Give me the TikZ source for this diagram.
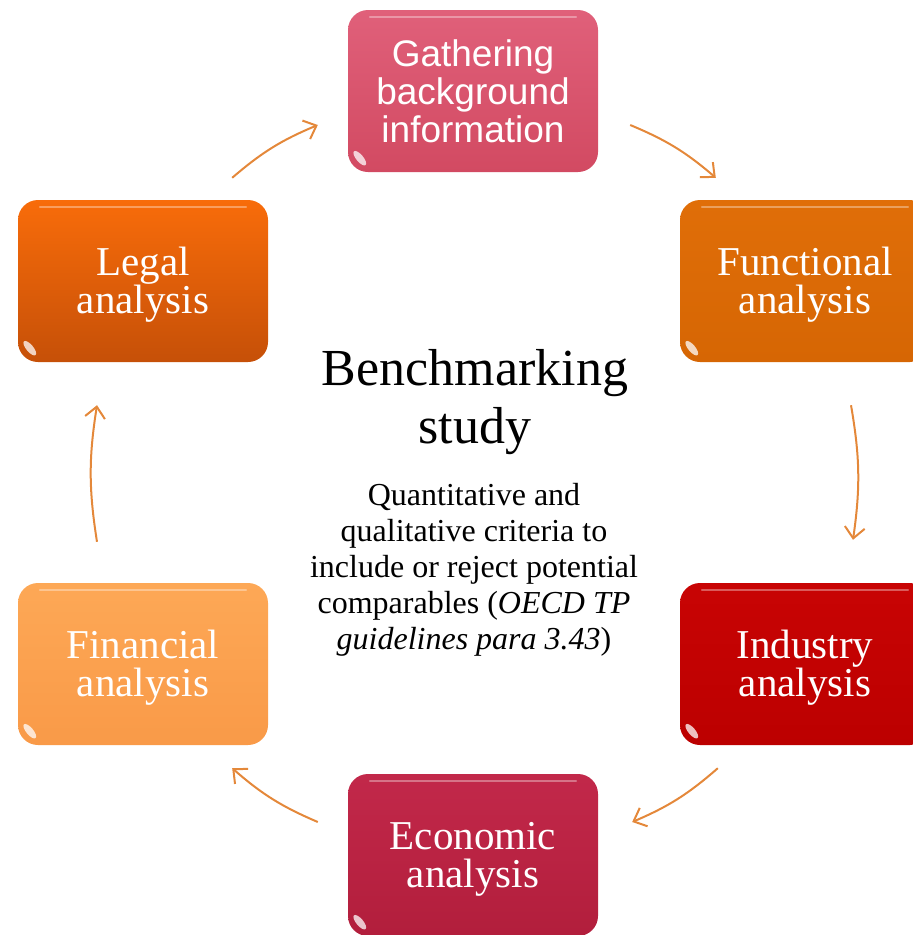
\documentclass[tikz,border=0pt]{standalone}
\usepackage{fontspec}
\setmainfont{Liberation Serif}
\newfontfamily\gathersans{Liberation Sans}
\usetikzlibrary{arrows.meta}

\definecolor{gathertop}{HTML}{E0607A}
\definecolor{gatherbot}{HTML}{D24A62}
\definecolor{legaltop}{HTML}{F86C0A}
\definecolor{legalbot}{HTML}{C65008}
\definecolor{functop}{HTML}{E06E08}
\definecolor{funcbot}{HTML}{D66604}
\definecolor{indtop}{HTML}{C80404}
\definecolor{indbot}{HTML}{BC0000}
\definecolor{fintop}{HTML}{FDA856}
\definecolor{finbot}{HTML}{F99A48}
\definecolor{ecotop}{HTML}{C2284A}
\definecolor{ecobot}{HTML}{B21E3C}
\definecolor{flowcol}{HTML}{E4883A}

\tikzset{
  box/.style={rounded corners=20pt, minimum width=250pt, minimum height=162pt,
    text=white, align=center},
  stage/.style={box, font=\fontsize{41}{38}\selectfont,
    execute at begin node={\rule{0pt}{74pt}}},
  gatherstage/.style={box, font=\gathersans\fontsize{37}{38}\selectfont},
  flow/.style={draw=flowcol, line width=2pt,
    -{Straight Barb[length=11pt,width=20pt]}},
}

\begin{document}
\begin{tikzpicture}[x=1pt,y=1pt]
  \useasboundingbox (0,0) rectangle (913,-935);
  \clip (0,0) rectangle (913,-935);

  % the six stages
  \node[gatherstage, top color=gathertop, bottom color=gatherbot] (gather) at (473,-91)
    {Gathering\\background\\information};
  \node[stage, top color=functop, bottom color=funcbot] (func) at (805,-281)
    {Functional\\analysis};
  \node[stage, top color=indtop, bottom color=indbot] (ind) at (805,-664)
    {Industry\\analysis};
  \node[stage, top color=ecotop, bottom color=ecobot] (eco) at (473,-855)
    {Economic\\analysis};
  \node[stage, top color=fintop, bottom color=finbot] (fin) at (143,-664)
    {Financial\\analysis};
  \node[stage, top color=legaltop, bottom color=legalbot] (legal) at (143,-281)
    {Legal\\analysis};

  % gloss
  \foreach \n in {gather,func,ind,eco,fin,legal} {
    \draw[white, opacity=0.35, line width=2pt, line cap=round]
      ([shift={(22,-7)}]\n.north west) -- ([shift={(-22,-7)}]\n.north east);
    \fill[white, opacity=0.75]
      ([shift={(12,14)}]\n.south west) ellipse[x radius=9pt, y radius=3.5pt, rotate=-50];
  }

  % centre
  \node[font=\fontsize{52}{58}\selectfont, align=center] (title) at (475,-402)
    {Benchmarking\\study};
  \node[font=\fontsize{32}{36}\selectfont, align=center] (criteria) at (474,-570)
    {Quantitative and\\qualitative criteria to\\include or reject potential\\
     comparables (\textit{OECD TP}\\\textit{guidelines para 3.43})};

  % cycle
  \draw[flow] ([shift={(-36,22)}]legal.north east) to[bend left=9] ([shift={(-30,-34)}]gather.west);
  \draw[flow] ([shift={(32,-34)}]gather.east) to[bend left=9] ([shift={(36,22)}]func.north west);
  \draw[flow] ([shift={(46,-43)}]func.south) to[bend left=9] ([shift={(48,43)}]ind.north);
  \draw[flow] ([shift={(38,-23)}]ind.south west) to[bend left=9] ([shift={(34,33)}]eco.east);
  \draw[flow] ([shift={(-30,33)}]eco.west) to[bend left=9] ([shift={(-36,-23)}]fin.south east);
  \draw[flow] ([shift={(-46,41)}]fin.north) to[bend left=9] ([shift={(-46,-43)}]legal.south);
\end{tikzpicture}
\end{document}
